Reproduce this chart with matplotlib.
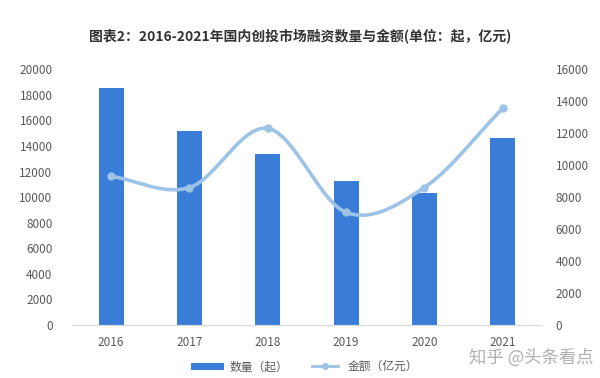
import numpy as np
import matplotlib
matplotlib.use("Agg")
import matplotlib.pyplot as plt

plt.rcParams['font.family'] = ['Noto Sans CJK SC', 'DejaVu Sans']

years = ['2016', '2017', '2018', '2019', '2020', '2021']
counts = [18500, 15200, 13400, 11250, 10300, 14600]      # 数量（起）
amounts = [9300, 8600, 12300, 7050, 8600, 13550]          # 金额（亿元）

bar_color = '#3A7DD8'
line_color = '#9DC3E6'
text_color = '#595959'


def smooth(xs, ys, n=30):
    # Catmull-Rom curve through the points, like Excel's smoothed line
    xs = np.asarray(xs, float)
    ys = np.asarray(ys, float)
    px = np.concatenate([[2 * xs[0] - xs[1]], xs, [2 * xs[-1] - xs[-2]]])
    py = np.concatenate([[2 * ys[0] - ys[1]], ys, [2 * ys[-1] - ys[-2]]])
    out_x, out_y = [], []
    t = np.linspace(0, 1, n)
    for i in range(1, len(px) - 2):
        for p, out in ((px, out_x), (py, out_y)):
            p0, p1, p2, p3 = p[i - 1], p[i], p[i + 1], p[i + 2]
            out.extend(0.5 * (2 * p1 + (-p0 + p2) * t
                              + (2 * p0 - 5 * p1 + 4 * p2 - p3) * t ** 2
                              + (-p0 + 3 * p1 - 3 * p2 + p3) * t ** 3))
    return out_x, out_y


fig = plt.figure(figsize=(6, 3.78), dpi=100)
ax = fig.add_axes([0.12, 0.14, 0.783, 0.677])
x = np.arange(len(years))

ax.bar(x, counts, width=0.32, color=bar_color, label='数量（起）', zorder=2)
ax.set_ylim(0, 20000)
ax.set_yticks(range(0, 20001, 2000))
ax.set_xlim(-0.5, len(years) - 0.5)
ax.set_xticks(x)
ax.set_xticklabels(years)

ax2 = ax.twinx()
sx, sy = smooth(x, amounts)
ax2.plot(sx, sy, color=line_color, lw=2.6, zorder=3)
ax2.plot(x, amounts, 'o', color=line_color, ms=5, zorder=4)
ax2.set_ylim(0, 16000)
ax2.set_yticks(range(0, 16001, 2000))

for a in (ax, ax2):
    for s in ('top', 'left', 'right'):
        a.spines[s].set_visible(False)
    a.spines['bottom'].set_color('#D9D9D9')
    a.tick_params(length=0, labelsize=8.5, colors=text_color)
ax.tick_params(axis='y', pad=14)
ax.tick_params(axis='x', pad=8)
ax2.tick_params(axis='y', pad=10)

fig.text(0.5, 0.905, '图表2：2016-2021年国内创投市场融资数量与金额(单位：起，亿元)',
         ha='center', va='center', fontsize=10, fontweight='bold', color='#333333')

handles = [plt.Line2D([], [], color=bar_color, lw=5),
           plt.Line2D([], [], color=line_color, lw=2, marker='o', ms=4)]
fig.legend(handles, ['数量（起）', '金额（亿元）'], loc='center', ncol=2,
           bbox_to_anchor=(0.51, 0.03), frameon=False, fontsize=8.5,
           labelcolor=text_color, handlelength=2.2, columnspacing=2)

fig.text(0.99, 0.055, '知乎 @头条看点', ha='right', va='center',
         fontsize=12.5, color='#B0B0B0')

fig.savefig('out.png', dpi=100)
